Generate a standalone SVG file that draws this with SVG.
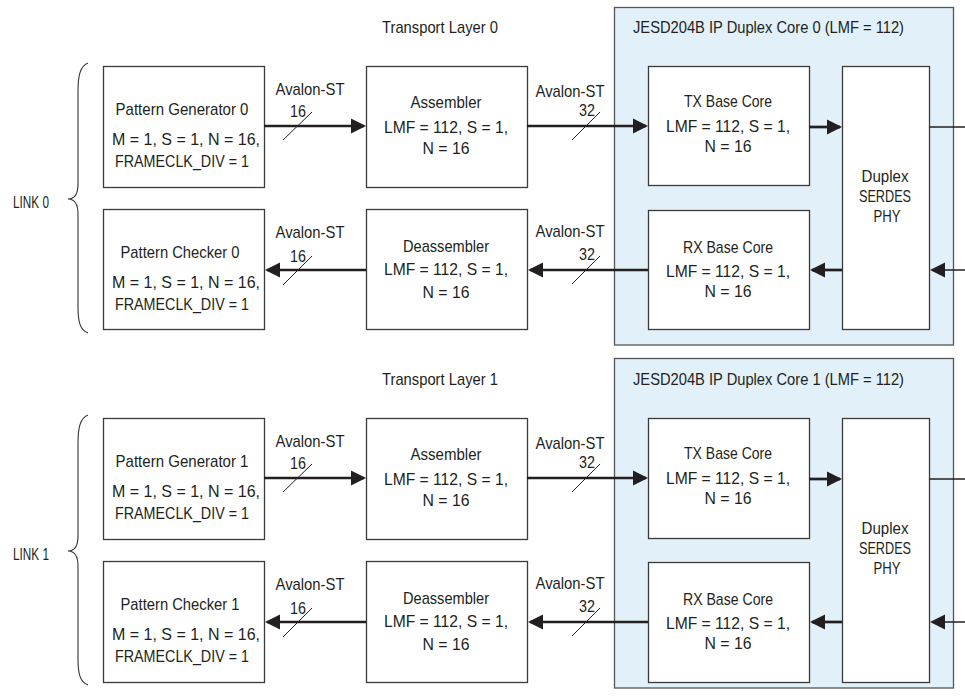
<svg xmlns="http://www.w3.org/2000/svg" width="965" height="698" viewBox="0 0 965 698">
<defs>
<marker id="ah" markerUnits="userSpaceOnUse" markerWidth="16" markerHeight="16" refX="13" refY="8" orient="auto">
<path d="M0,0.5 L15,8 L0,15.5 z" fill="#231f20"/>
</marker>
<style>
.t{font-family:"Liberation Sans",Arial,sans-serif;font-size:17px;fill:#231f20}
.m{text-anchor:middle}
.box{fill:#fff;stroke:#3a3a3a;stroke-width:1.3}
.core{fill:#e1f0f9;stroke:#555;stroke-width:1.3}
.w{stroke:#231f20;stroke-width:2.7;fill:none}
.thin{stroke:#231f20;stroke-width:1.7;fill:none}
.sl{stroke:#231f20;stroke-width:1;fill:none}
.br{stroke:#333;stroke-width:1.1;fill:none}
</style>
</defs>
<rect width="965" height="698" fill="#fff"/>

<!-- ===== LINK 0 ===== -->
<g id="core0"><rect class="core" x="614.5" y="7.5" width="339" height="337.5"/>
<text class="t" x="633" y="33" textLength="271" lengthAdjust="spacingAndGlyphs">JESD204B IP Duplex Core 0 (LMF = 112)</text></g>
<text class="t m" x="440" y="33" textLength="116" lengthAdjust="spacingAndGlyphs">Transport Layer 0</text>
<g id="link0"><path class="br" d="M88,63 C80,66 78,76 78,92 L78,184 C78,194 74,199 68,199 C74,199 78,204 78,214 L78,306 C78,322 80,330 88,333"/>
<text class="t" x="13" y="208" textLength="36" lengthAdjust="spacingAndGlyphs">LINK 0</text></g>

<g id="gen0"><rect class="box" x="103.5" y="66.5" width="161" height="121"/>
<text class="t m" x="182" y="115" textLength="133" lengthAdjust="spacingAndGlyphs">Pattern Generator 0</text>
<text class="t m" x="186" y="145" textLength="148" lengthAdjust="spacingAndGlyphs">M = 1, S = 1, N = 16,</text>
<text class="t m" x="182" y="167" textLength="134" lengthAdjust="spacingAndGlyphs">FRAMECLK_DIV = 1</text></g>
<g id="chk0"><rect class="box" x="103.5" y="209.5" width="161" height="120"/>
<text class="t m" x="180" y="258" textLength="119" lengthAdjust="spacingAndGlyphs">Pattern Checker 0</text>
<text class="t m" x="186" y="288" textLength="148" lengthAdjust="spacingAndGlyphs">M = 1, S = 1, N = 16,</text>
<text class="t m" x="182" y="310" textLength="134" lengthAdjust="spacingAndGlyphs">FRAMECLK_DIV = 1</text></g>
<g id="asm0"><rect class="box" x="366.5" y="66.5" width="161" height="121"/>
<text class="t m" x="446" y="108" textLength="71" lengthAdjust="spacingAndGlyphs">Assembler</text>
<text class="t m" x="446" y="133" textLength="124" lengthAdjust="spacingAndGlyphs">LMF = 112, S = 1,</text>
<text class="t m" x="446" y="154" textLength="47" lengthAdjust="spacingAndGlyphs">N = 16</text></g>
<g id="dasm0"><rect class="box" x="366.5" y="209.5" width="161" height="120"/>
<text class="t m" x="446" y="252" textLength="86" lengthAdjust="spacingAndGlyphs">Deassembler</text>
<text class="t m" x="446" y="275" textLength="124" lengthAdjust="spacingAndGlyphs">LMF = 112, S = 1,</text>
<text class="t m" x="446" y="298" textLength="47" lengthAdjust="spacingAndGlyphs">N = 16</text></g>
<g id="tx0"><rect class="box" x="648.5" y="66.5" width="161" height="119"/>
<text class="t m" x="728" y="107" textLength="88" lengthAdjust="spacingAndGlyphs">TX Base Core</text>
<text class="t m" x="728" y="132" textLength="124" lengthAdjust="spacingAndGlyphs">LMF = 112, S = 1,</text>
<text class="t m" x="728" y="152" textLength="47" lengthAdjust="spacingAndGlyphs">N = 16</text></g>
<g id="rx0"><rect class="box" x="648.5" y="210.5" width="161" height="119"/>
<text class="t m" x="728" y="253" textLength="90" lengthAdjust="spacingAndGlyphs">RX Base Core</text>
<text class="t m" x="728" y="277" textLength="124" lengthAdjust="spacingAndGlyphs">LMF = 112, S = 1,</text>
<text class="t m" x="728" y="297" textLength="47" lengthAdjust="spacingAndGlyphs">N = 16</text></g>
<g id="phy0"><rect class="box" x="842.5" y="66.5" width="87" height="263"/>
<text class="t m" x="885" y="182" textLength="47" lengthAdjust="spacingAndGlyphs">Duplex</text>
<text class="t m" x="885" y="202" textLength="52" lengthAdjust="spacingAndGlyphs">SERDES</text>
<text class="t m" x="887" y="222" textLength="27" lengthAdjust="spacingAndGlyphs">PHY</text></g>

<!-- ===== LINK 1 ===== -->
<g id="core1"><rect class="core" x="614.5" y="358.5" width="339" height="329.5"/>
<text class="t" x="633" y="385" textLength="271" lengthAdjust="spacingAndGlyphs">JESD204B IP Duplex Core 1 (LMF = 112)</text></g>
<text class="t m" x="440" y="385" textLength="116" lengthAdjust="spacingAndGlyphs">Transport Layer 1</text>
<g id="link1"><path class="br" d="M88,415 C80,418 78,428 78,444 L78,536 C78,546 74,551 68,551 C74,551 78,556 78,566 L78,658 C78,674 80,682 88,685"/>
<text class="t" x="13" y="560" textLength="36" lengthAdjust="spacingAndGlyphs">LINK 1</text></g>

<g id="gen1"><rect class="box" x="103.5" y="418.5" width="161" height="121"/>
<text class="t m" x="182" y="467" textLength="133" lengthAdjust="spacingAndGlyphs">Pattern Generator 1</text>
<text class="t m" x="186" y="497" textLength="148" lengthAdjust="spacingAndGlyphs">M = 1, S = 1, N = 16,</text>
<text class="t m" x="182" y="519" textLength="134" lengthAdjust="spacingAndGlyphs">FRAMECLK_DIV = 1</text></g>
<g id="chk1"><rect class="box" x="103.5" y="561.5" width="161" height="121"/>
<text class="t m" x="180" y="610" textLength="119" lengthAdjust="spacingAndGlyphs">Pattern Checker 1</text>
<text class="t m" x="186" y="640" textLength="148" lengthAdjust="spacingAndGlyphs">M = 1, S = 1, N = 16,</text>
<text class="t m" x="182" y="662" textLength="134" lengthAdjust="spacingAndGlyphs">FRAMECLK_DIV = 1</text></g>
<g id="asm1"><rect class="box" x="366.5" y="418.5" width="161" height="121"/>
<text class="t m" x="446" y="460" textLength="71" lengthAdjust="spacingAndGlyphs">Assembler</text>
<text class="t m" x="446" y="485" textLength="124" lengthAdjust="spacingAndGlyphs">LMF = 112, S = 1,</text>
<text class="t m" x="446" y="506" textLength="47" lengthAdjust="spacingAndGlyphs">N = 16</text></g>
<g id="dasm1"><rect class="box" x="366.5" y="561.5" width="161" height="121"/>
<text class="t m" x="446" y="604" textLength="86" lengthAdjust="spacingAndGlyphs">Deassembler</text>
<text class="t m" x="446" y="627" textLength="124" lengthAdjust="spacingAndGlyphs">LMF = 112, S = 1,</text>
<text class="t m" x="446" y="650" textLength="47" lengthAdjust="spacingAndGlyphs">N = 16</text></g>
<g id="tx1"><rect class="box" x="648.5" y="418.5" width="161" height="120"/>
<text class="t m" x="728" y="459" textLength="88" lengthAdjust="spacingAndGlyphs">TX Base Core</text>
<text class="t m" x="728" y="484" textLength="124" lengthAdjust="spacingAndGlyphs">LMF = 112, S = 1,</text>
<text class="t m" x="728" y="504" textLength="47" lengthAdjust="spacingAndGlyphs">N = 16</text></g>
<g id="rx1"><rect class="box" x="648.5" y="562.5" width="161" height="120"/>
<text class="t m" x="728" y="605" textLength="90" lengthAdjust="spacingAndGlyphs">RX Base Core</text>
<text class="t m" x="728" y="629" textLength="124" lengthAdjust="spacingAndGlyphs">LMF = 112, S = 1,</text>
<text class="t m" x="728" y="649" textLength="47" lengthAdjust="spacingAndGlyphs">N = 16</text></g>
<g id="phy1"><rect class="box" x="842.5" y="418.5" width="87" height="264"/>
<text class="t m" x="885" y="534" textLength="47" lengthAdjust="spacingAndGlyphs">Duplex</text>
<text class="t m" x="885" y="554" textLength="52" lengthAdjust="spacingAndGlyphs">SERDES</text>
<text class="t m" x="887" y="574" textLength="27" lengthAdjust="spacingAndGlyphs">PHY</text></g>

<!-- ===== connectors ===== -->
<g id="connectors">
<line class="w" x1="264" y1="126" x2="364" y2="126" marker-end="url(#ah)"/>
<line class="w" x1="527" y1="126" x2="646" y2="126" marker-end="url(#ah)"/>
<line class="w" x1="809" y1="127" x2="840" y2="127" marker-end="url(#ah)"/>
<line class="thin" x1="929" y1="127" x2="965" y2="127"/>
<line class="w" x1="366" y1="270" x2="267" y2="270" marker-end="url(#ah)"/>
<line class="w" x1="648" y1="270" x2="530" y2="270" marker-end="url(#ah)"/>
<line class="w" x1="842" y1="270" x2="812" y2="270" marker-end="url(#ah)"/>
<line class="thin" x1="965" y1="270" x2="932" y2="270" marker-end="url(#ah)"/>
<line class="sl" x1="283" y1="140" x2="312" y2="112"/>
<line class="sl" x1="572" y1="140" x2="600" y2="112"/>
<line class="sl" x1="283" y1="285" x2="312" y2="256"/>
<line class="sl" x1="572" y1="284" x2="600" y2="256"/>
<text class="t m" x="310" y="95" textLength="69" lengthAdjust="spacingAndGlyphs">Avalon-ST</text>
<text class="t m" x="298" y="117" textLength="16" lengthAdjust="spacingAndGlyphs">16</text>
<text class="t m" x="570" y="97" textLength="69" lengthAdjust="spacingAndGlyphs">Avalon-ST</text>
<text class="t m" x="587" y="116" textLength="16" lengthAdjust="spacingAndGlyphs">32</text>
<text class="t m" x="310" y="238" textLength="69" lengthAdjust="spacingAndGlyphs">Avalon-ST</text>
<text class="t m" x="298" y="262" textLength="16" lengthAdjust="spacingAndGlyphs">16</text>
<text class="t m" x="570" y="237" textLength="69" lengthAdjust="spacingAndGlyphs">Avalon-ST</text>
<text class="t m" x="587" y="260" textLength="16" lengthAdjust="spacingAndGlyphs">32</text>

<line class="w" x1="264" y1="478" x2="364" y2="478" marker-end="url(#ah)"/>
<line class="w" x1="527" y1="478" x2="646" y2="478" marker-end="url(#ah)"/>
<line class="w" x1="809" y1="479" x2="840" y2="479" marker-end="url(#ah)"/>
<line class="thin" x1="929" y1="479" x2="965" y2="479"/>
<line class="w" x1="366" y1="622" x2="267" y2="622" marker-end="url(#ah)"/>
<line class="w" x1="648" y1="622" x2="530" y2="622" marker-end="url(#ah)"/>
<line class="w" x1="842" y1="622" x2="812" y2="622" marker-end="url(#ah)"/>
<line class="thin" x1="965" y1="622" x2="932" y2="622" marker-end="url(#ah)"/>
<line class="sl" x1="283" y1="492" x2="312" y2="464"/>
<line class="sl" x1="572" y1="492" x2="600" y2="464"/>
<line class="sl" x1="283" y1="637" x2="312" y2="608"/>
<line class="sl" x1="572" y1="636" x2="600" y2="608"/>
<text class="t m" x="310" y="447" textLength="69" lengthAdjust="spacingAndGlyphs">Avalon-ST</text>
<text class="t m" x="298" y="469" textLength="16" lengthAdjust="spacingAndGlyphs">16</text>
<text class="t m" x="570" y="449" textLength="69" lengthAdjust="spacingAndGlyphs">Avalon-ST</text>
<text class="t m" x="587" y="468" textLength="16" lengthAdjust="spacingAndGlyphs">32</text>
<text class="t m" x="310" y="590" textLength="69" lengthAdjust="spacingAndGlyphs">Avalon-ST</text>
<text class="t m" x="298" y="614" textLength="16" lengthAdjust="spacingAndGlyphs">16</text>
<text class="t m" x="570" y="589" textLength="69" lengthAdjust="spacingAndGlyphs">Avalon-ST</text>
<text class="t m" x="587" y="612" textLength="16" lengthAdjust="spacingAndGlyphs">32</text>
</g>
</svg>
